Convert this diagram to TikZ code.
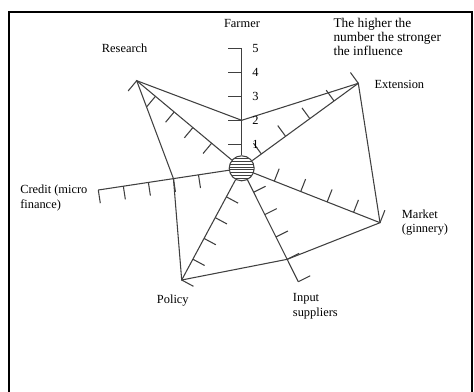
\documentclass[tikz,border=0pt]{standalone}
\usepackage{fontspec}
\setmainfont{Liberation Serif}
\usetikzlibrary{calc}
\newcommand\axticks[2]{%
  \foreach \i in {0,...,4}{%
    \coordinate (tp) at ($(#1)!{\i*#2}!(hub.center)$);
    \draw[ax] (tp) -- ($(tp)!10pt!-90:(hub.center)$);
  }%
}
\begin{document}
\begin{tikzpicture}[x=0.75pt,y=-0.75pt,
  ax/.style={draw=black!75, line width=0.8pt},
  lbl/.style={font=\fontsize{9.3}{10.6}\selectfont, inner sep=0pt, anchor=west, align=left},
  num/.style={font=\fontsize{9.3}{10.6}\selectfont, inner sep=0pt},
  note/.style={font=\fontsize{10}{10.3}\selectfont, inner sep=0pt, anchor=west, align=left}]
\useasboundingbox (0,0) rectangle (474,392);
\draw[line width=1.5pt] (9,392) -- (9,12) -- (471.5,12) -- (471.5,392);

% hub
\node (hub) [circle, draw=black!75, line width=0.8pt, minimum size=18.75pt, inner sep=0pt,
  path picture={\foreach \k in {-3.5,-2.5,...,3.5}
     \draw[line width=0.5pt, black!75] ([yshift=\k*2.2pt]path picture bounding box.west) -- ([yshift=\k*2.2pt]path picture bounding box.east);}]
  at (241.7,168.3) {};

% axis ends
\coordinate (fT) at (241.7,48.3);
\coordinate (rT) at (136.7,80.7);
\coordinate (eT) at (358.3,83.3);
\coordinate (mT) at (380,222.7);
\coordinate (iT) at (298.3,281.7);
\coordinate (pT) at (181.7,280);
\coordinate (cT) at (98.3,190);

\foreach \e in {fT,rT,eT,mT,iT,pT,cT} \draw[ax] (hub) -- (\e);

\axticks{fT}{18pt}
\axticks{rT}{18.3pt}
\axticks{eT}{22.5pt}
\axticks{mT}{21.3pt}
\axticks{iT}{18.75pt}
\axticks{pT}{17.7pt}
\axticks{cT}{19pt}

% profile
\coordinate (F2) at ($(fT)!{3*18pt}!(hub.center)$);
\coordinate (I4) at ($(iT)!{1*18.75pt}!(hub.center)$);
\coordinate (C2) at ($(cT)!{3*19pt}!(hub.center)$);
\draw[ax] (rT) -- (F2) -- (eT) -- (mT) -- (I4) -- (pT) -- (C2) -- cycle;

% scale numbers
\foreach \n/\y in {5/48.3,4/72.3,3/96.3,2/120.3,1/144.3}
  \node[num] (n\n) at (255.5,\y) {\n};

% labels
\node[num] (farmer) at (242,24) {Farmer};
\node[lbl] (research) at (101.7,48.3) {Research};
\node[lbl] (extension) at (374.3,84) {Extension};
\node[lbl] (credit) at (20,198) {Credit (micro\\finance)};
\node[lbl] (market) at (401.7,222.2) {Market\\(ginnery)};
\node[lbl] (policy) at (156.7,301) {Policy};
\node[lbl] (input) at (292.7,306.3) {Input\\suppliers};
\node[note] (noteA) at (333.3,37) {The higher the\\number the stronger\\the influence};
\end{tikzpicture}
\end{document}
